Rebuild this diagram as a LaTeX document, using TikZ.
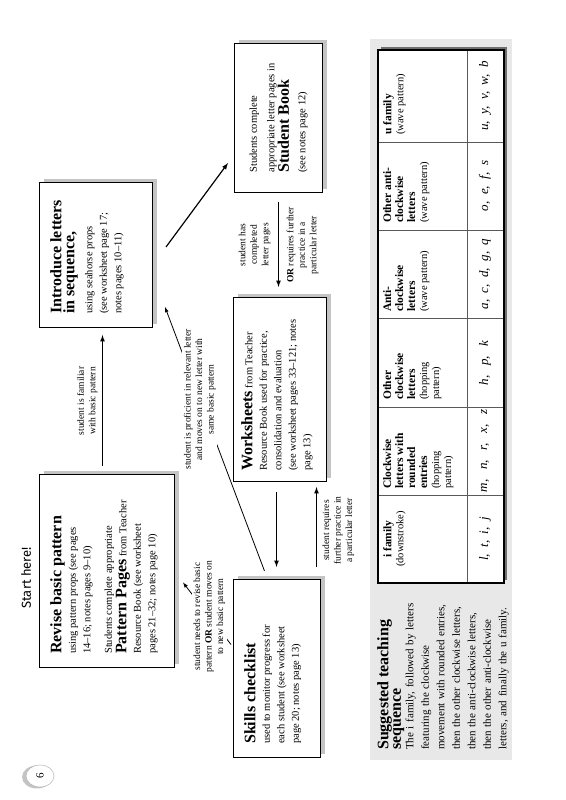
\documentclass[tikz,border=0pt]{standalone}
\usepackage{fontspec}
\setmainfont{Liberation Serif}
\newfontfamily\starthere{Fira Sans}
\usetikzlibrary{arrows,calc}
\definecolor{ce8e8e8}{RGB}{232,232,232}
\definecolor{cc4c4c4}{RGB}{196,196,196}
\definecolor{c707070}{RGB}{112,112,112}
\definecolor{c5a5a5a}{RGB}{90,90,90}
\tikzset{box/.style={draw,fill=white,line width=1pt,inner sep=0pt,anchor=south west},
  boxtext/.style={anchor=north west,align=left,inner sep=0pt,font=\fontsize{10.5}{14.5}\selectfont},
  flowlabel/.style={align=center,inner sep=1.5pt,fill=white,font=\fontsize{9.5}{11.5}\selectfont},
  colhead/.style={anchor=north west,align=left,inner sep=0pt,font=\fontsize{10.5}{12}\selectfont},
  letters/.style={font=\fontsize{13}{13}\selectfont\itshape}}
\newcommand{\boxhead}[1]{{\fontsize{16}{15}\selectfont\bfseries #1}}
\newcommand{\colbf}[1]{{\fontsize{11.5}{12}\selectfont\bfseries #1}}

\begin{document}
\begin{tikzpicture}[x=1pt,y=1pt,>=latex]
\useasboundingbox (0,0) rectangle (565,800);
\begin{scope}[shift={(565,0)},rotate=90,transform shape]

\node[font=\starthere\fontsize{13}{13}\selectfont] (start) at (222,539) {Start here!};

% page number
\fill[cc4c4c4] (23,528) ellipse (11.5 and 15);
\draw[gray!60,fill=white,line width=0.5pt] (24,525) ellipse (11 and 14);
\node[font=\fontsize{11}{11}\selectfont] (pagenum) at (24,525) {6};

% shadows
\fill[cc4c4c4] (136,386) rectangle (329,521);
\fill[cc4c4c4] (476,408) rectangle (621,521);
\fill[cc4c4c4] (611,238) rectangle (760,326);
\fill[cc4c4c4] (322,234) rectangle (506,327);
\fill[cc4c4c4] (46,240) rectangle (224,327);

% boxes
\node[box,minimum width=193pt,minimum height=135pt] (revise) at (132,390) {};
\node[box,minimum width=145pt,minimum height=113pt] (intro) at (472,412) {};
\node[box,minimum width=149pt,minimum height=88pt] (sb) at (607,242) {};
\node[box,minimum width=184pt,minimum height=93pt] (ws) at (318,238) {};
\node[box,minimum width=178pt,minimum height=87pt] (skills) at (42,244) {};

\node[boxtext] (reviseTxt) at ([shift={(14pt,-11pt)}]revise.north west)
  {\boxhead{Revise basic pattern}\\
   using pattern props (see pages\\
   14--16; notes pages 9--10)\\[7pt]
   Students complete appropriate\\
   \boxhead{Pattern Pages} from Teacher\\
   Resource Book (see worksheet\\
   pages 21--32; notes page 10)};
\node[boxtext] (introTxt) at ([shift={(14pt,-11pt)}]intro.north west)
  {\boxhead{Introduce letters}\\[-1.5pt]
   \boxhead{in sequence,}\\[3.5pt]
   using seahorse props\\
   (see worksheet page 17;\\
   notes pages 10--11)};
\node[boxtext,anchor=center] (sbTxt) at (sb.center)
  {Students complete\\[3pt]
   appropriate letter pages in\\
   \boxhead{Student Book}\\[2pt]
   (see notes page 12)};
\node[boxtext] (wsTxt) at ([shift={(11pt,-8pt)}]ws.north west)
  {\boxhead{Worksheets} from Teacher\\
   Resource Book used for practice,\\
   consolidation and evaluation\\
   (see worksheet pages 33--121; notes\\
   page 13)};
\node[boxtext] (skillsTxt) at ([shift={(14pt,-11pt)}]skills.north west)
  {\boxhead{Skills checklist}\\
   used to monitor progress for\\
   each student (see worksheet\\
   page 20; notes page 13)};

% connectors
\draw[->,line width=1.2pt,shorten <=8pt,shorten >=7pt] ([yshift=4.5pt]revise.east) -- ([yshift=-6.5pt]intro.west)
  node[midway,above=3pt,flowlabel] (familiar) {student is familiar\\with basic pattern};
\draw[->,line width=1.2pt] ([shift={(8pt,-13pt)}]intro.south) -- ([shift={(30pt,6pt)}]sb.north west);
\draw[->,line width=1.2pt,shorten <=9pt,shorten >=10pt] (sb.west) -- ([yshift=1.5pt]ws.east)
  node[midway,above=6pt,flowlabel] (completed) {student has\\completed\\letter pages}
  node[midway,below=6pt,flowlabel] (further) {\textbf{OR} requires further\\practice in a\\particular letter};
\draw[->,line width=1.2pt,shorten <=10pt,shorten >=12pt] ([yshift=3.5pt]ws.west) -- ([yshift=0.5pt]skills.east);
\draw[->,line width=1.2pt,shorten <=12pt,shorten >=5pt] ([yshift=-39.5pt]skills.east) -- ([yshift=-36.5pt]ws.west)
  node[midway,below=4pt,flowlabel] (requires) {student requires\\further practice in\\a particular letter};
\draw[->,line width=0.8pt] ([shift={(8pt,12.5pt)}]skills.east) -- ([shift={(21pt,-12pt)}]intro.south west)
  node[pos=0.65,flowlabel] (proficient) {student is proficient in relevant letter\\and moves on to new letter with\\same basic pattern};
\draw[->,line width=0.8pt] ([shift={(24pt,2pt)}]skills.north) -- ([shift={(-11.5pt,-8pt)}]revise.south)
  node[pos=0.45,flowlabel] (revisit) {student needs to revise basic\\pattern \textbf{OR} student moves on\\to new basic pattern};

% teaching sequence panel
\fill[ce8e8e8] (40,53) rectangle (761,195);
\node[anchor=north west,align=left,inner sep=0pt,text width=165pt,font=\fontsize{11}{15.5}\selectfont] (suggest) at (50,188)
  {\boxhead{Suggested teaching}\\[-3pt]
   \boxhead{sequence}\\[-3pt]
   The i family, followed by letters\\
   featuring the clockwise\\
   movement with rounded entries,\\
   then the other clockwise letters,\\
   then the anti-clockwise letters,\\
   then the other anti-clockwise\\
   letters, and finally the u family.};

\fill[c707070] (220,58) rectangle (753,184);
\fill[white] (217,61) rectangle (750,187);
\draw[c5a5a5a,line width=0.6pt] (217,98) -- (750,98);
\draw[c5a5a5a,line width=0.6pt] (305,61) -- (305,187);
\draw[c5a5a5a,line width=0.6pt] (393,61) -- (393,187);
\draw[c5a5a5a,line width=0.6pt] (482,61) -- (482,187);
\draw[c5a5a5a,line width=0.6pt] (570,61) -- (570,187);
\draw[c5a5a5a,line width=0.6pt] (658,61) -- (658,187);
\draw[line width=1.2pt] (217,61) rectangle (750,187);

\node[colhead,anchor=north,align=center] (ifam) at (261,182) {\colbf{i family}\\(downstroke)};
\node[colhead] (cwround) at (311,182) {\colbf{Clockwise}\\\colbf{letters with}\\\colbf{rounded}\\\colbf{entries}\\(hopping\\pattern)};
\node[colhead] (othercw) at (400,182) {\colbf{Other}\\\colbf{clockwise}\\\colbf{letters}\\(hopping\\pattern)};
\node[colhead] (anticw) at (488,182) {\colbf{Anti-}\\\colbf{clockwise}\\\colbf{letters}\\(wave pattern)};
\node[colhead] (otheracw) at (577,182) {\colbf{Other anti-}\\\colbf{clockwise}\\\colbf{letters}\\(wave pattern)};
\node[colhead] (ufam) at (665,182) {\colbf{u family}\\(wave pattern)};

\node[letters] (ilet) at (261,80) {l,~ t,~ i,~ j};
\node[letters] (cwlet) at (349,80) {m,~~ n,~~ r,~~ x,~~ z};
\node[letters] (otherlet) at (437,80) {h,~~ p,~~ k};
\node[letters] (antilet) at (526,80) {a,~ c,~ d,~ g,~ q};
\node[letters] (oacwlet) at (614,80) {o,~ e,~ f,~ s};
\node[letters] (ulet) at (704,80) {u,~ y,~ v,~ w,~ b};

\end{scope}
\end{tikzpicture}
\end{document}
